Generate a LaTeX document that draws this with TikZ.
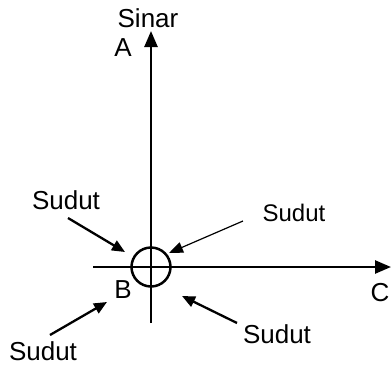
\documentclass[tikz,border=0pt]{standalone}
\usepackage{fontspec}
\setmainfont{Liberation Sans}
\usetikzlibrary{arrows.meta}
\begin{document}
\begin{tikzpicture}[x=1pt,y=-1pt,
  axis/.style={line width=2.5pt},
  bigtip/.style={-{Triangle[length=16pt,width=13pt]}},
  ptr/.style={line width=2.3pt,-{Triangle[length=13pt,width=11pt]}},
  thinptr/.style={line width=1.2pt,-{Triangle[length=14pt,width=11pt]}},
  lbl/.style={inner sep=0pt,font=\fontsize{26}{29}\selectfont},
  slbl/.style={inner sep=0pt,font=\fontsize{24}{27}\selectfont}]
\useasboundingbox (0,0) rectangle (392,365);
\coordinate (O) at (151,267);
\coordinate (top) at (151,31);
\coordinate (bot) at (151,323);
\coordinate (left) at (93,267);
\coordinate (right) at (391,267);
\draw[axis,bigtip] (bot) -- (top);
\draw[axis,bigtip] (left) -- (right);
\node[draw,circle,line width=2.5pt,minimum size=39pt,inner sep=0pt] (c) at (O) {};
\node[lbl] (sinar) at (148,18) {Sinar};
\node[lbl] (A) at (123,48) {A};
\node[lbl] (B) at (123,290) {B};
\node[lbl] (C) at (380,293) {C};
\node[lbl] (s1) at (66,200) {Sudut};
\node[slbl] (s2) at (294,213) {Sudut};
\node[lbl] (s3) at (277,334) {Sudut};
\node[lbl] (s4) at (43,351) {Sudut};
\coordinate (s1a) at (68,218);
\coordinate (s1b) at (125,252);
\coordinate (s2a) at (243,221);
\coordinate (s2b) at (169,253);
\coordinate (s3a) at (237,323);
\coordinate (s3b) at (182,296);
\coordinate (s4a) at (50,335);
\coordinate (s4b) at (107,302);
\draw[ptr] (s1a) -- (s1b);
\draw[thinptr] (s2a) -- (s2b);
\draw[ptr] (s3a) -- (s3b);
\draw[ptr] (s4a) -- (s4b);
\end{tikzpicture}
\end{document}
